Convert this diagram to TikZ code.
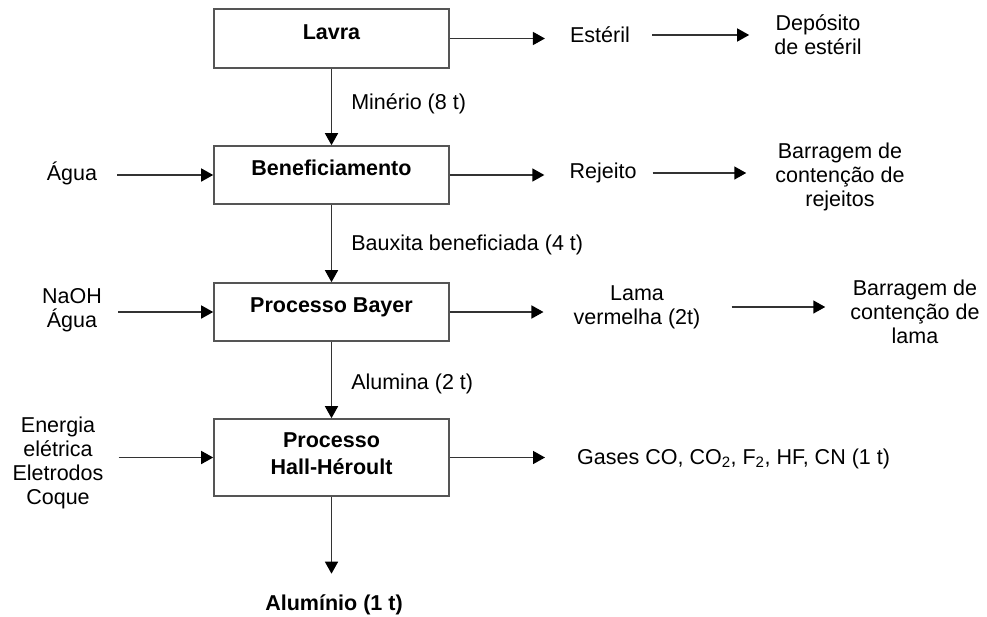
\documentclass[tikz,border=0pt]{standalone}
\usepackage{fontspec}
\setmainfont{Liberation Sans}
\usetikzlibrary{arrows.meta, positioning}
\definecolor{boxgray}{HTML}{555555}

\begin{document}
\begin{tikzpicture}[x=1pt, y=-1pt,
    every node/.style={font=\fontsize{21.5}{24}\selectfont, inner sep=0pt},
    box/.style={draw=boxgray, line width=1.6pt,
                minimum width=235pt, minimum height=58pt,
                align=center, text height=15pt, text depth=14pt,
                font=\fontsize{21.5}{24}\selectfont\bfseries},
    txt/.style={align=center},
    lbl/.style={right=19pt},
    arr/.style={-{Triangle[length=12pt, width=13pt, color=black]},
                line width=1.5pt, draw=black!80},
  ]
  \useasboundingbox (0,0) rectangle (987,616);

  % process chain
  \node[box, minimum height=59pt] (lavra) at (331.5,38.5) {Lavra};
  \node[box] (benef) at (331.5,175) {Beneficiamento};
  \node[box] (bayer) at (331.5,312) {Processo Bayer};
  \node[box, minimum height=77pt, text height=42pt, text depth=8pt]
        (hall) at (331.5,457.5) {Processo\\[3pt]Hall-Héroult};
  \node[font=\fontsize{21.5}{24}\selectfont\bfseries]
        (aluminio) at (334,605) {Alumínio (1 t)};

  % inputs
  \node (agua) at (72,173) {Água};
  \node[txt] (naoh) at (72,310) {NaOH\\Água};
  \node[txt] (energia) at (58,463) {Energia\\elétrica\\Eletrodos\\Coque};

  % outputs
  \node (esteril) at (600,35) {Estéril};
  \node[txt] (deposito) at (818,35) {Depósito\\de estéril};
  \node (rejeito) at (603,173) {Rejeito};
  \node[txt] (barrej) at (840,177) {Barragem de\\contenção de\\rejeitos};
  \node[txt] (lama) at (637,307) {Lama\\vermelha (2t)};
  \node[txt] (barlama) at (915,312) {Barragem de\\contenção de\\lama};
  \node[anchor=west] (gases) at (577,459)
        {Gases CO, CO\textsubscript{2}, F\textsubscript{2}, HF, CN (1 t)};

  % main flow
  \draw[arr] (lavra) -- node[lbl, yshift=3pt] (minerio) {Minério (8 t)} (benef);
  \draw[arr] (benef) -- node[lbl, yshift=-1.5pt] (bauxita) {Bauxita beneficiada (4 t)} (bayer);
  \draw[arr] (bayer) -- node[lbl, yshift=-4pt] (alumina) {Alumina (2 t)} (hall);
  \draw[arr, shorten >=21pt] (hall.south) -- (hall.south |- aluminio.north);

  \draw[arr, shorten <=20pt] (agua.east |- benef.west) -- (benef.west);
  \draw[arr, shorten <=16pt] (naoh.east |- bayer.west) -- (bayer.west);
  \draw[arr, shorten <=15pt] (energia.east |- hall.west) -- (hall.west);

  \draw[arr, shorten >=25pt] (lavra.east) -- (lavra.east -| esteril.west);
  \draw[arr, shorten <=22pt, shorten >=25pt] (esteril.east) -- (esteril.east -| deposito.west);
  \draw[arr, shorten >=25pt] (benef.east) -- (benef.east -| rejeito.west);
  \draw[arr, shorten <=16pt, shorten >=29pt] (rejeito.east) -- (rejeito.east -| barrej.west);
  \draw[arr, shorten >=30pt] (bayer.east) -- (bayer.east -| lama.west);
  \draw[arr, shorten <=31pt, shorten >=25pt] (lama.east) -- (lama.east -| barlama.west);
  \draw[arr, shorten >=32pt] (hall.east) -- (hall.east -| gases.west);
\end{tikzpicture}
\end{document}
